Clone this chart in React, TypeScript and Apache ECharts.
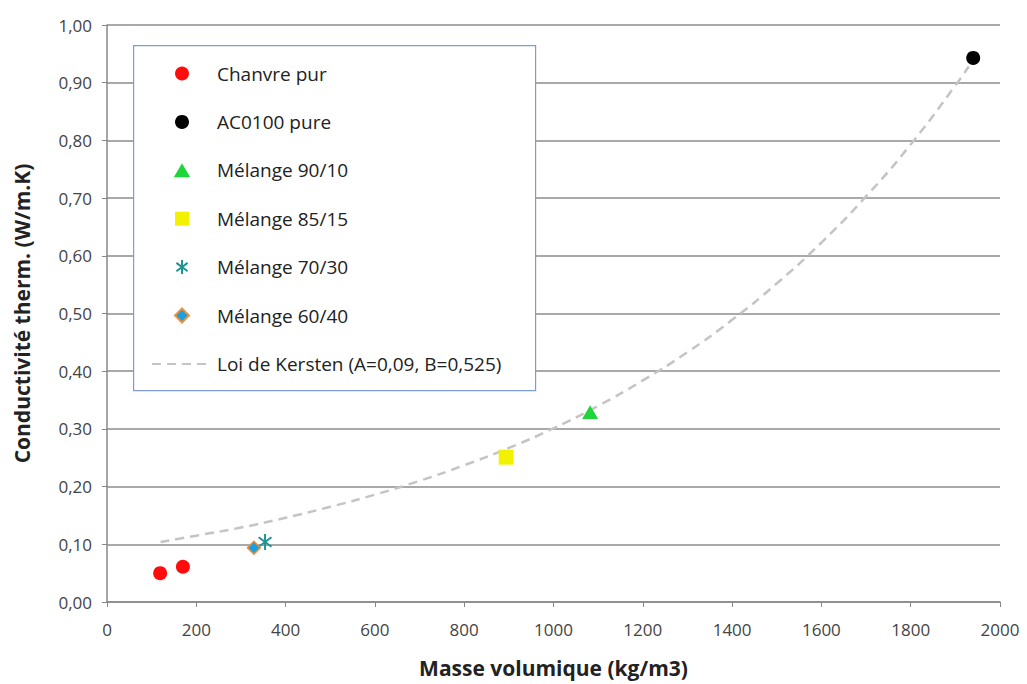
import React, { useEffect, useRef } from "react";
import * as echarts from "echarts";

const chanvrePur: number[][] = [[119, 0.05], [170, 0.061]];
const ac0100Pure: number[][] = [[1940, 0.943]];
const melange9010: number[][] = [[1082, 0.329]];
const melange8515: number[][] = [[894, 0.251]];
const melange7030: number[][] = [[354, 0.104]];
const melange6040: number[][] = [[329, 0.094]];
const kerstenX: number[] = [120, 200, 300, 400, 500, 600, 700, 800, 900, 1000, 1100, 1200, 1300, 1400, 1500, 1600, 1700, 1800, 1900, 1930];
const kerstenY: number[] = [0.104, 0.115, 0.129, 0.146, 0.165, 0.186, 0.21, 0.237, 0.267, 0.301, 0.34, 0.384, 0.433, 0.489, 0.552, 0.623, 0.703, 0.793, 0.895, 0.928];

const FONT = "'Open Sans', 'Liberation Sans', sans-serif";
const STAR = "path://M10,0 L10,20 M2,4 L18,16 M2,16 L18,4";
const TRI = "path://M10,0 L20,17 L0,17 Z";
const SQUARE = "path://M0,0 L20,0 L20,20 L0,20 Z";
const DIAMOND = "path://M10,0 L20,10 L10,20 L0,10 Z";
const KERSTEN = "Loi de Kersten (A=0,09, B=0,525)";

export default function App() {
  const ref = useRef<HTMLDivElement>(null);
  useEffect(() => {
    if (!ref.current) return;
    const chart = echarts.init(ref.current, undefined, { renderer: "svg" });
    const scatter = (name: string, data: number[][], symbol: string, size: number, style: any) => ({
      name,
      type: "scatter",
      data,
      symbol,
      symbolSize: size,
      symbolKeepAspect: true,
      itemStyle: { opacity: 1, ...style },
      z: 3,
    });
    chart.setOption({
      animation: false,
      backgroundColor: "#ffffff",
      grid: { left: 107, right: 27, top: 25, bottom: 82, containLabel: false },
      graphic: [
        {
          type: "rect",
          left: 133,
          top: 45,
          shape: { width: 402, height: 345 },
          style: { fill: "#ffffff", stroke: "#7f9ad6", lineWidth: 1.2 },
          z: 10,
        },
      ],
      legend: {
        orient: "vertical",
        left: 133,
        top: 45,
        padding: [19, 18, 17, 18],
        itemWidth: 60,
        itemHeight: 14,
        itemGap: 29.4,
        z: 20,
        textStyle: { fontFamily: FONT, fontSize: 19, color: "#222" },
        data: [
          "Chanvre pur",
          "AC0100 pure",
          "Mélange 90/10",
          "Mélange 85/15",
          "Mélange 70/30",
          "Mélange 60/40",
          { name: KERSTEN, itemStyle: { opacity: 0 } },
        ],
      },
      xAxis: {
        type: "value",
        min: 0,
        max: 2000,
        interval: 200,
        name: "Masse volumique (kg/m3)",
        nameLocation: "middle",
        nameGap: 55,
        nameTextStyle: { fontFamily: FONT, fontSize: 21, fontWeight: "bold", color: "#222" },
        axisLine: { show: true, lineStyle: { color: "#888", width: 1.5 } },
        axisTick: { show: true, length: 5, lineStyle: { color: "#888" } },
        axisLabel: {
          fontFamily: FONT,
          fontSize: 17,
          color: "#444",
          margin: 19,
          formatter: (v: number) => String(v),
        },
        splitLine: { show: false },
      },
      yAxis: {
        type: "value",
        min: 0,
        max: 1,
        interval: 0.1,
        name: "Conductivité therm. (W/m.K)",
        nameLocation: "middle",
        nameGap: 75,
        nameTextStyle: { fontFamily: FONT, fontSize: 21, fontWeight: "bold", color: "#222" },
        axisLine: { show: true, lineStyle: { color: "#888", width: 1.5 } },
        axisTick: { show: true, length: 5, lineStyle: { color: "#888" } },
        axisLabel: {
          fontFamily: FONT,
          fontSize: 17,
          color: "#444",
          margin: 15,
          formatter: (v: number) => v.toFixed(2).replace(".", ","),
        },
        splitLine: { show: true, lineStyle: { color: "#8c8c8c", width: 1.5 } },
      },
      series: [
        {
          name: KERSTEN,
          type: "line",
          data: kerstenX.map((x, i) => [x, kerstenY[i]]),
          smooth: true,
          showSymbol: false,
          symbol: "none",
          lineStyle: { color: "#c4c4c4", width: 2.5, type: [9, 6] },
          itemStyle: { color: "#c4c4c4" },
          z: 1,
        },
        scatter("Chanvre pur", chanvrePur, "circle", 14, { color: "#ff0d0d" }),
        scatter("AC0100 pure", ac0100Pure, "circle", 14, { color: "#000000" }),
        scatter("Mélange 90/10", melange9010, TRI, 16, { color: "#1fd63a" }),
        scatter("Mélange 85/15", melange8515, SQUARE, 15, { color: "#f2f200" }),
        scatter("Mélange 70/30", melange7030, STAR, 16, {
          color: "none",
          borderColor: "#1f9494",
          borderWidth: 2,
        }),
        scatter("Mélange 60/40", melange6040, DIAMOND, 13, {
          color: "#1aa0e0",
          borderColor: "#f0903a",
          borderWidth: 1.5,
        }),
      ],
    });
    return () => chart.dispose();
  }, []);
  return <div ref={ref} style={{ width: 1027, height: 684, position: "absolute", left: 0, top: 0 }} />;
}
